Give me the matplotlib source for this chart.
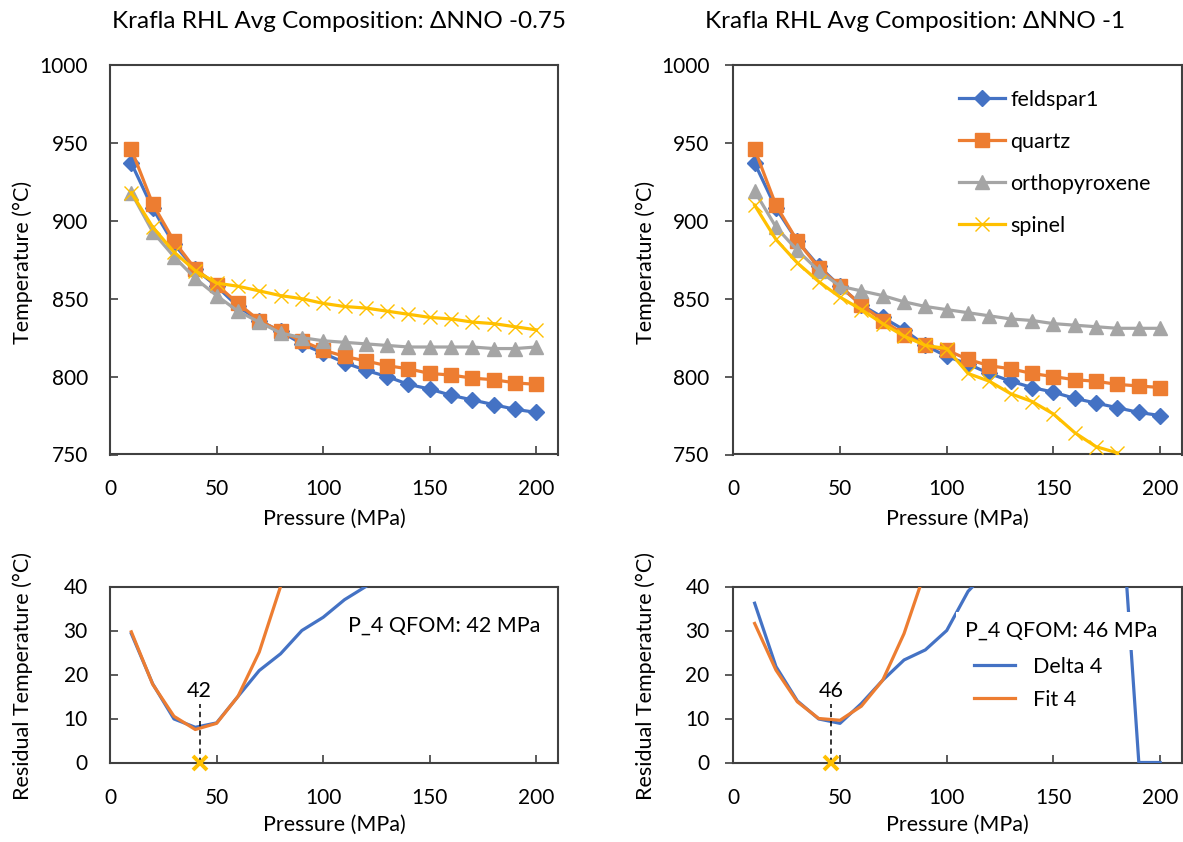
import numpy as np
import matplotlib
matplotlib.use("Agg")
import matplotlib.pyplot as plt

plt.rcParams['font.family'] = ['Lato', 'DejaVu Sans']

# ---------------- data ----------------
pressure = [10, 20, 30, 40, 50, 60, 70, 80, 90, 100, 110, 120, 130, 140, 150, 160, 170, 180, 190, 200]

# Left: dNNO -0.75
feld_l = [937, 908, 885, 869, 858, 845, 836, 829, 821, 815, 809, 804, 800, 795, 792, 788, 785, 782, 779, 777]
qtz_l = [946, 911, 887, 869, 859, 847, 836, 829, 823, 817, 813, 810, 807, 805, 802, 801, 799, 798, 796, 795]
opx_l = [918, 893, 877, 863, 852, 842, 835, 828, 825, 823, 822, 821, 820, 819, 819, 819, 819, 818, 818, 819]
spl_l = [918, 896, 880, 868, 860, 858, 855, 852, 850, 847, 845, 844, 842, 840, 838, 837, 835, 834, 832, 830]

# Right: dNNO -1
feld_r = [937, 908, 887, 871, 858, 846, 838, 830, 820, 813, 808, 802, 797, 793, 790, 786, 783, 780, 777, 775]
qtz_r = [946, 910, 887, 870, 858, 846, 836, 827, 820, 817, 811, 807, 805, 802, 800, 798, 797, 795, 794, 793]
opx_r = [919, 896, 881, 868, 858, 855, 852, 848, 845, 843, 841, 839, 837, 836, 834, 833, 832, 831, 831, 831]
spl_p_r = [10, 20, 30, 40, 50, 60, 70, 80, 90, 100, 110, 120, 130, 140, 150, 160, 170, 180]
spl_r = [910, 888, 873, 861, 851, 843, 834, 826, 820, 818, 802, 797, 789, 784, 776, 764, 755, 751]

series_names = ['feldspar1', 'quartz', 'orthopyroxene', 'spinel']

# Residuals
res_p_l = [10, 20, 30, 40, 50, 60, 70, 80, 90, 100, 110, 120]
delta_l = [29.3, 17.9, 9.9, 8.0, 9.0, 15.0, 20.9, 24.7, 30.0, 33.0, 37.0, 40.0]
fit_p_l = [10, 20, 30, 40, 50, 60, 70, 80]
fit_l = [29.7, 17.8, 10.5, 7.5, 8.9, 15.0, 25.1, 40.0]
qfom_l = 42

res_p_r = [10, 20, 30, 40, 50, 60, 70, 80, 90, 100, 110, 120, 130, 140, 150, 160, 170, 180, 190, 200]
delta_r = [36.2, 21.8, 14.0, 9.9, 8.9, 13.4, 18.7, 23.3, 25.6, 30.0, 38.9, 44, 50, 56, 62, 67, 70, 71, 0, 0]
fit_p_r = [10, 20, 30, 40, 50, 60, 70, 80, 90]
fit_r = [31.6, 21.0, 13.8, 10.0, 9.6, 12.8, 18.7, 29.3, 43.6]
qfom_r = 46

# ---------------- styles ----------------
C_BLUE = '#4472C4'
C_ORANGE = '#ED7D31'
C_GRAY = '#A5A5A5'
C_GOLD = '#FFC000'
FRAME = '#404040'
FS = 15.5

W, H = 1183, 842
fig = plt.figure(figsize=(W / 100, H / 100), dpi=100)


def px_axes(l, t, r, b):
    return fig.add_axes([l / W, 1 - b / H, (r - l) / W, (b - t) / H])


def style_axes(ax, ydir):
    for s in ax.spines.values():
        s.set_color(FRAME)
        s.set_linewidth(1.5)
    ax.tick_params(axis='x', direction='in', length=6, width=1.2, color=FRAME,
                   labelsize=15, pad=18, colors='black')
    if ydir == 'in':
        ax.tick_params(axis='y', direction='in', length=6, width=1.2, color=FRAME,
                       labelsize=15, pad=16)
    else:
        ax.tick_params(axis='y', direction='out', length=6, width=1.2, color=FRAME,
                       labelsize=15, pad=11)
    ax.set_xlim(0, 210)
    ax.set_xticks([0, 50, 100, 150, 200])


def top_plot(ax, feld, qtz, opx, spl_p, spl):
    ax.plot(pressure, feld, color=C_BLUE, lw=2.3, marker='D', ms=8.5, label=series_names[0], zorder=3)
    ax.plot(pressure, qtz, color=C_ORANGE, lw=2.3, marker='s', ms=10, label=series_names[1], zorder=3)
    ax.plot(pressure, opx, color=C_GRAY, lw=2.3, marker='^', ms=10, label=series_names[2], zorder=3)
    ax.plot(spl_p, spl, color=C_GOLD, lw=2.3, marker='x', ms=10, mew=1.0, label=series_names[3], zorder=3)
    ax.set_ylim(750, 1000)
    ax.set_yticks([750, 800, 850, 900, 950, 1000])


# ---- Top-left
ax1 = px_axes(110, 65, 557.7, 454.5)
style_axes(ax1, 'in')
top_plot(ax1, feld_l, qtz_l, opx_l, pressure, spl_l)
fig.text(339 / W, 1 - 21 / H, 'Krafla RHL Avg Composition: \u0394NNO -0.75',
         ha='center', va='center', fontsize=17.5)

# ---- Top-right
ax2 = px_axes(733.3, 65, 1181.5, 454.5)
style_axes(ax2, 'out')
top_plot(ax2, feld_r, qtz_r, opx_r, spl_p_r, spl_r)
fig.text(915 / W, 1 - 21 / H, 'Krafla RHL Avg Composition: \u0394NNO -1',
         ha='center', va='center', fontsize=17.5)
ax2.legend(loc='upper left', bbox_to_anchor=(959 / W, 1 - 90 / H), bbox_transform=fig.transFigure,
           frameon=False, fontsize=FS, labelspacing=1.02, handlelength=2.14, handletextpad=0.23,
           borderpad=0, borderaxespad=0)

# ---- Bottom plots
def bottom_plot(ax, rp, d, fp, f, q):
    ax.plot(rp, d, color=C_BLUE, lw=2.3, label='Delta 4', zorder=3)
    ax.plot(fp, f, color=C_ORANGE, lw=2.3, label='Fit 4', zorder=3)
    ax.set_ylim(0, 40)
    ax.set_yticks([0, 10, 20, 30, 40])
    ax.plot([q, q], [0, 13.3], color='black', lw=1.1, ls=(0, (3.5, 2.5)), zorder=3.5)
    ax.plot([q], [0], marker='x', color=C_GOLD, ms=10, mew=2.8, clip_on=False, zorder=5)
    ax.text(q, 13.9, str(q), ha='center', va='bottom', fontsize=FS)


ax3 = px_axes(110, 586.5, 557.7, 762.5)
style_axes(ax3, 'in')
bottom_plot(ax3, res_p_l, delta_l, fit_p_l, fit_l, qfom_l)
ax3.text(444 / W, 1 - 626 / H, 'P_4 QFOM: 42 MPa', transform=fig.transFigure,
         ha='center', va='center', fontsize=FS)

ax4 = px_axes(733.3, 586.5, 1181.5, 762.5)
style_axes(ax4, 'out')
bottom_plot(ax4, res_p_r, delta_r, fit_p_r, fit_r, qfom_r)
ax4.text(1061 / W, 1 - 631 / H, 'P_4 QFOM: 46 MPa', transform=fig.transFigure,
         ha='center', va='center', fontsize=FS, zorder=6,
         bbox=dict(boxstyle='square,pad=0.4', fc='white', ec='none'))
ax4.legend(loc='upper left', bbox_to_anchor=(974 / W, 1 - 657 / H), bbox_transform=fig.transFigure,
           frameon=False, fontsize=FS, labelspacing=0.59, handlelength=1.9, handletextpad=0.84,
           borderpad=0, borderaxespad=0)

# ---- axis labels
for xc in (334, 957):
    fig.text(xc / W, 1 - 519 / H, 'Pressure (MPa)', ha='center', va='center', fontsize=FS)
    fig.text(xc / W, 1 - 825 / H, 'Pressure (MPa)', ha='center', va='center', fontsize=FS)
for xc in (23, 646):
    fig.text(xc / W, 1 - 262 / H, 'Temperature (\u00b0C)', ha='center', va='center', rotation=90, fontsize=FS)
    fig.text(xc / W, 1 - 676 / H, 'Residual Temperature (\u00b0C)', ha='center', va='center', rotation=90, fontsize=FS)

fig.savefig('out.png', dpi=100)
